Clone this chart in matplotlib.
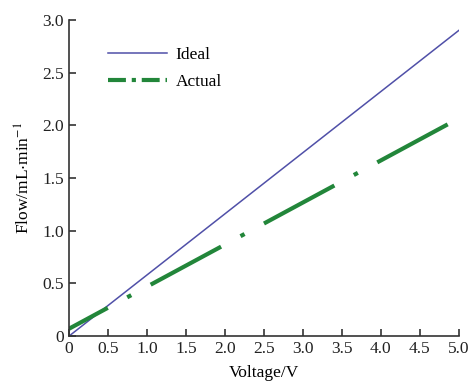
import matplotlib.pyplot as plt
from matplotlib.lines import Line2D
from matplotlib.ticker import FuncFormatter

plt.rcParams['font.family'] = ['Liberation Serif', 'DejaVu Serif']
plt.rcParams['mathtext.fontset'] = 'stix'

# data
voltage = [0.0, 5.0]
ideal_flow = [0.0, 2.9]
actual_voltage = [0.0, 4.86]
actual_flow = [0.07, 2.01]
x_ticks = [0, 0.5, 1.0, 1.5, 2.0, 2.5, 3.0, 3.5, 4.0, 4.5, 5.0]
y_ticks = [0, 0.5, 1.0, 1.5, 2.0, 2.5, 3.0]

blue = '#5050a8'
green = '#22863a'

fig = plt.figure(figsize=(4.72, 3.9), dpi=100)
ax = fig.add_axes([0.146, 0.138, 0.826, 0.811])

ax.plot(voltage, ideal_flow, color=blue, lw=1.1)
ax.plot(actual_voltage, actual_flow, color=green, lw=3,
        linestyle=(8.6, (19.2, 5.3, 1.1, 5.3)), dash_capstyle='butt')

ax.set_xlim(0, 5)
ax.set_ylim(0, 3)
ax.set_xticks(x_ticks)
ax.set_yticks(y_ticks)
fmt = FuncFormatter(lambda v, p: '0' if v == 0 else f'{v:.1f}')
ax.xaxis.set_major_formatter(fmt)
ax.yaxis.set_major_formatter(fmt)
ax.tick_params(direction='in', length=5, width=1.1, labelsize=12.5, colors='#222222')

for s in ['top', 'right']:
    ax.spines[s].set_visible(False)
for s in ['left', 'bottom']:
    ax.spines[s].set_linewidth(1.2)
    ax.spines[s].set_color('#333333')

ax.set_xlabel('Voltage/V', fontsize=12.5, labelpad=6)
ax.set_ylabel('Flow/mL$\\cdot$min$^{-1}$', fontsize=12.5, labelpad=6)

# legend handles: the actual line shows a dash-dot-dash in its short sample
handles = [Line2D([], [], color=blue, lw=1.1),
           Line2D([], [], color=green, lw=3, linestyle=(0, (4.3, 1.4, 1.0, 1.4)),
                  dash_capstyle='butt')]
ax.legend(handles, ['Ideal', 'Actual'], loc='upper left', bbox_to_anchor=(0.06, 0.965),
          frameon=False, fontsize=12.5, handlelength=3.4, handletextpad=0.5,
          labelspacing=0.65)

fig.savefig('out.png', dpi=100)
